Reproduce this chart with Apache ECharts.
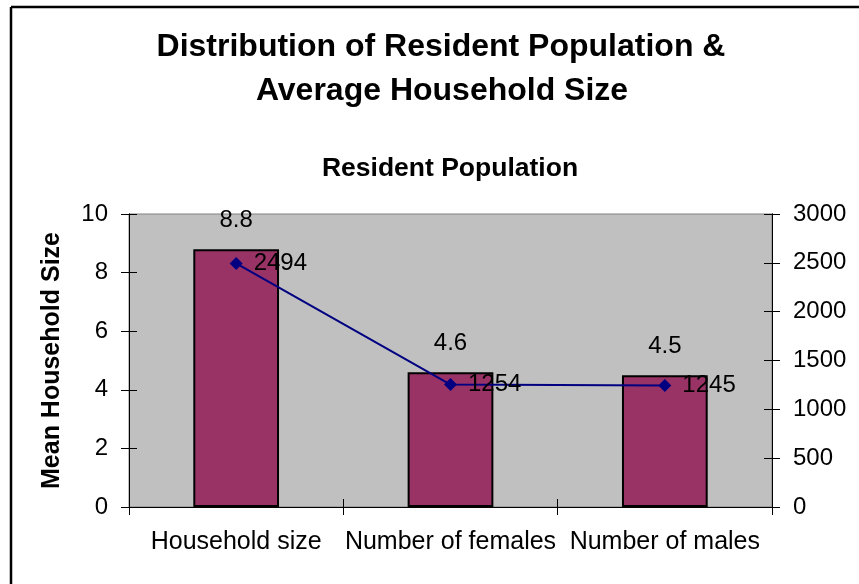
<!DOCTYPE html>
<html>
<head>
<meta charset="utf-8">
<script src="https://cdn.jsdelivr.net/npm/echarts@6/dist/echarts.min.js"></script>
<style>
html,body{margin:0;padding:0;background:#fff;}
#chart{width:859px;height:584px;}
</style>
</head>
<body>
<div id="chart"></div>
<script>
const categories = ['Household size', 'Number of females', 'Number of males'];
const meanHouseholdSize = [8.8, 4.6, 4.5];
const residentPopulation = [2494, 1254, 1245];
const leftTicks = {min: 0, max: 10, interval: 2};
const rightTicks = {min: 0, max: 3000, interval: 500};
const titleLines = ['Distribution of Resident Population &', 'Average Household Size'];
const subtitleText = 'Resident Population';
const yAxisTitle = 'Mean Household Size';

const FONT = 'Liberation Sans, Arial, sans-serif';
const chart = echarts.init(document.getElementById('chart'), null, {renderer: 'canvas'});

function valueAxis(position, ticks, inside) {
  return {
    type: 'value',
    position: position,
    min: ticks.min, max: ticks.max, interval: ticks.interval,
    axisLine: {show: true, lineStyle: {color: '#000', width: 1}},
    axisTick: {show: true, inside: inside, length: 8, lineStyle: {color: '#000', width: 1}},
    axisLabel: {show: !inside, color: '#000', fontSize: 24, fontFamily: FONT, margin: 21, formatter: function (v) { return String(v); }},
    splitLine: {show: false}
  };
}
function catAxis(inside) {
  return {
    type: 'category',
    data: categories,
    position: 'bottom',
    boundaryGap: true,
    axisLine: {show: true, lineStyle: {color: '#000', width: 1}},
    axisTick: {show: true, inside: inside, length: 8, interval: 0, lineStyle: {color: '#000', width: 1}},
    axisLabel: {show: !inside, interval: 0, color: '#000', fontSize: 25, fontFamily: FONT, margin: 23}
  };
}

const yLeft = valueAxis('left', leftTicks, false);
yLeft.name = yAxisTitle;
yLeft.nameLocation = 'middle';
yLeft.nameGap = 64;
yLeft.nameTextStyle = {color: '#000', fontSize: 25, fontWeight: 'bold', fontFamily: FONT};

const option = {
  animation: false,
  backgroundColor: '#fff',
  grid: {left: 129, right: 87, top: 214, bottom: 77, show: true, backgroundColor: '#c0c0c0', borderColor: '#808080', borderWidth: 1, containLabel: false},
  graphic: [
    {type: 'line', shape: {x1: 11, y1: 7, x2: 859, y2: 7}, style: {stroke: '#000', lineWidth: 2.5}, silent: true},
    {type: 'line', shape: {x1: 11, y1: 7, x2: 11, y2: 584}, style: {stroke: '#000', lineWidth: 2.5}, silent: true},
    {type: 'text', x: 441, y: 47, style: {text: titleLines[0], font: 'bold 32px ' + FONT, fill: '#000', textAlign: 'center', textVerticalAlign: 'middle'}},
    {type: 'text', x: 442, y: 91, style: {text: titleLines[1], font: 'bold 32px ' + FONT, fill: '#000', textAlign: 'center', textVerticalAlign: 'middle'}},
    {type: 'text', x: 450, y: 169, style: {text: subtitleText, font: 'bold 26.5px ' + FONT, fill: '#000', textAlign: 'center', textVerticalAlign: 'middle'}}
  ],
  xAxis: [catAxis(false), catAxis(true)],
  yAxis: [yLeft, valueAxis('right', rightTicks, false), valueAxis('left', leftTicks, true), valueAxis('right', rightTicks, true)],
  series: [
    {
      type: 'bar', name: yAxisTitle, xAxisIndex: 0, yAxisIndex: 0,
      data: meanHouseholdSize, barWidth: '40%',
      itemStyle: {color: '#993366', borderColor: '#000', borderWidth: 2},
      label: {show: true, position: 'top', distance: 17, color: '#000', fontSize: 24, fontFamily: FONT}
    },
    {
      type: 'line', name: subtitleText, xAxisIndex: 0, yAxisIndex: 1,
      data: residentPopulation, symbol: 'diamond', symbolSize: 13,
      itemStyle: {color: '#000080'}, lineStyle: {color: '#000080', width: 2},
      label: {show: true, position: 'right', distance: 11, color: '#000', fontSize: 24, fontFamily: FONT}
    }
  ]
};
chart.setOption(option);
</script>
</body>
</html>
